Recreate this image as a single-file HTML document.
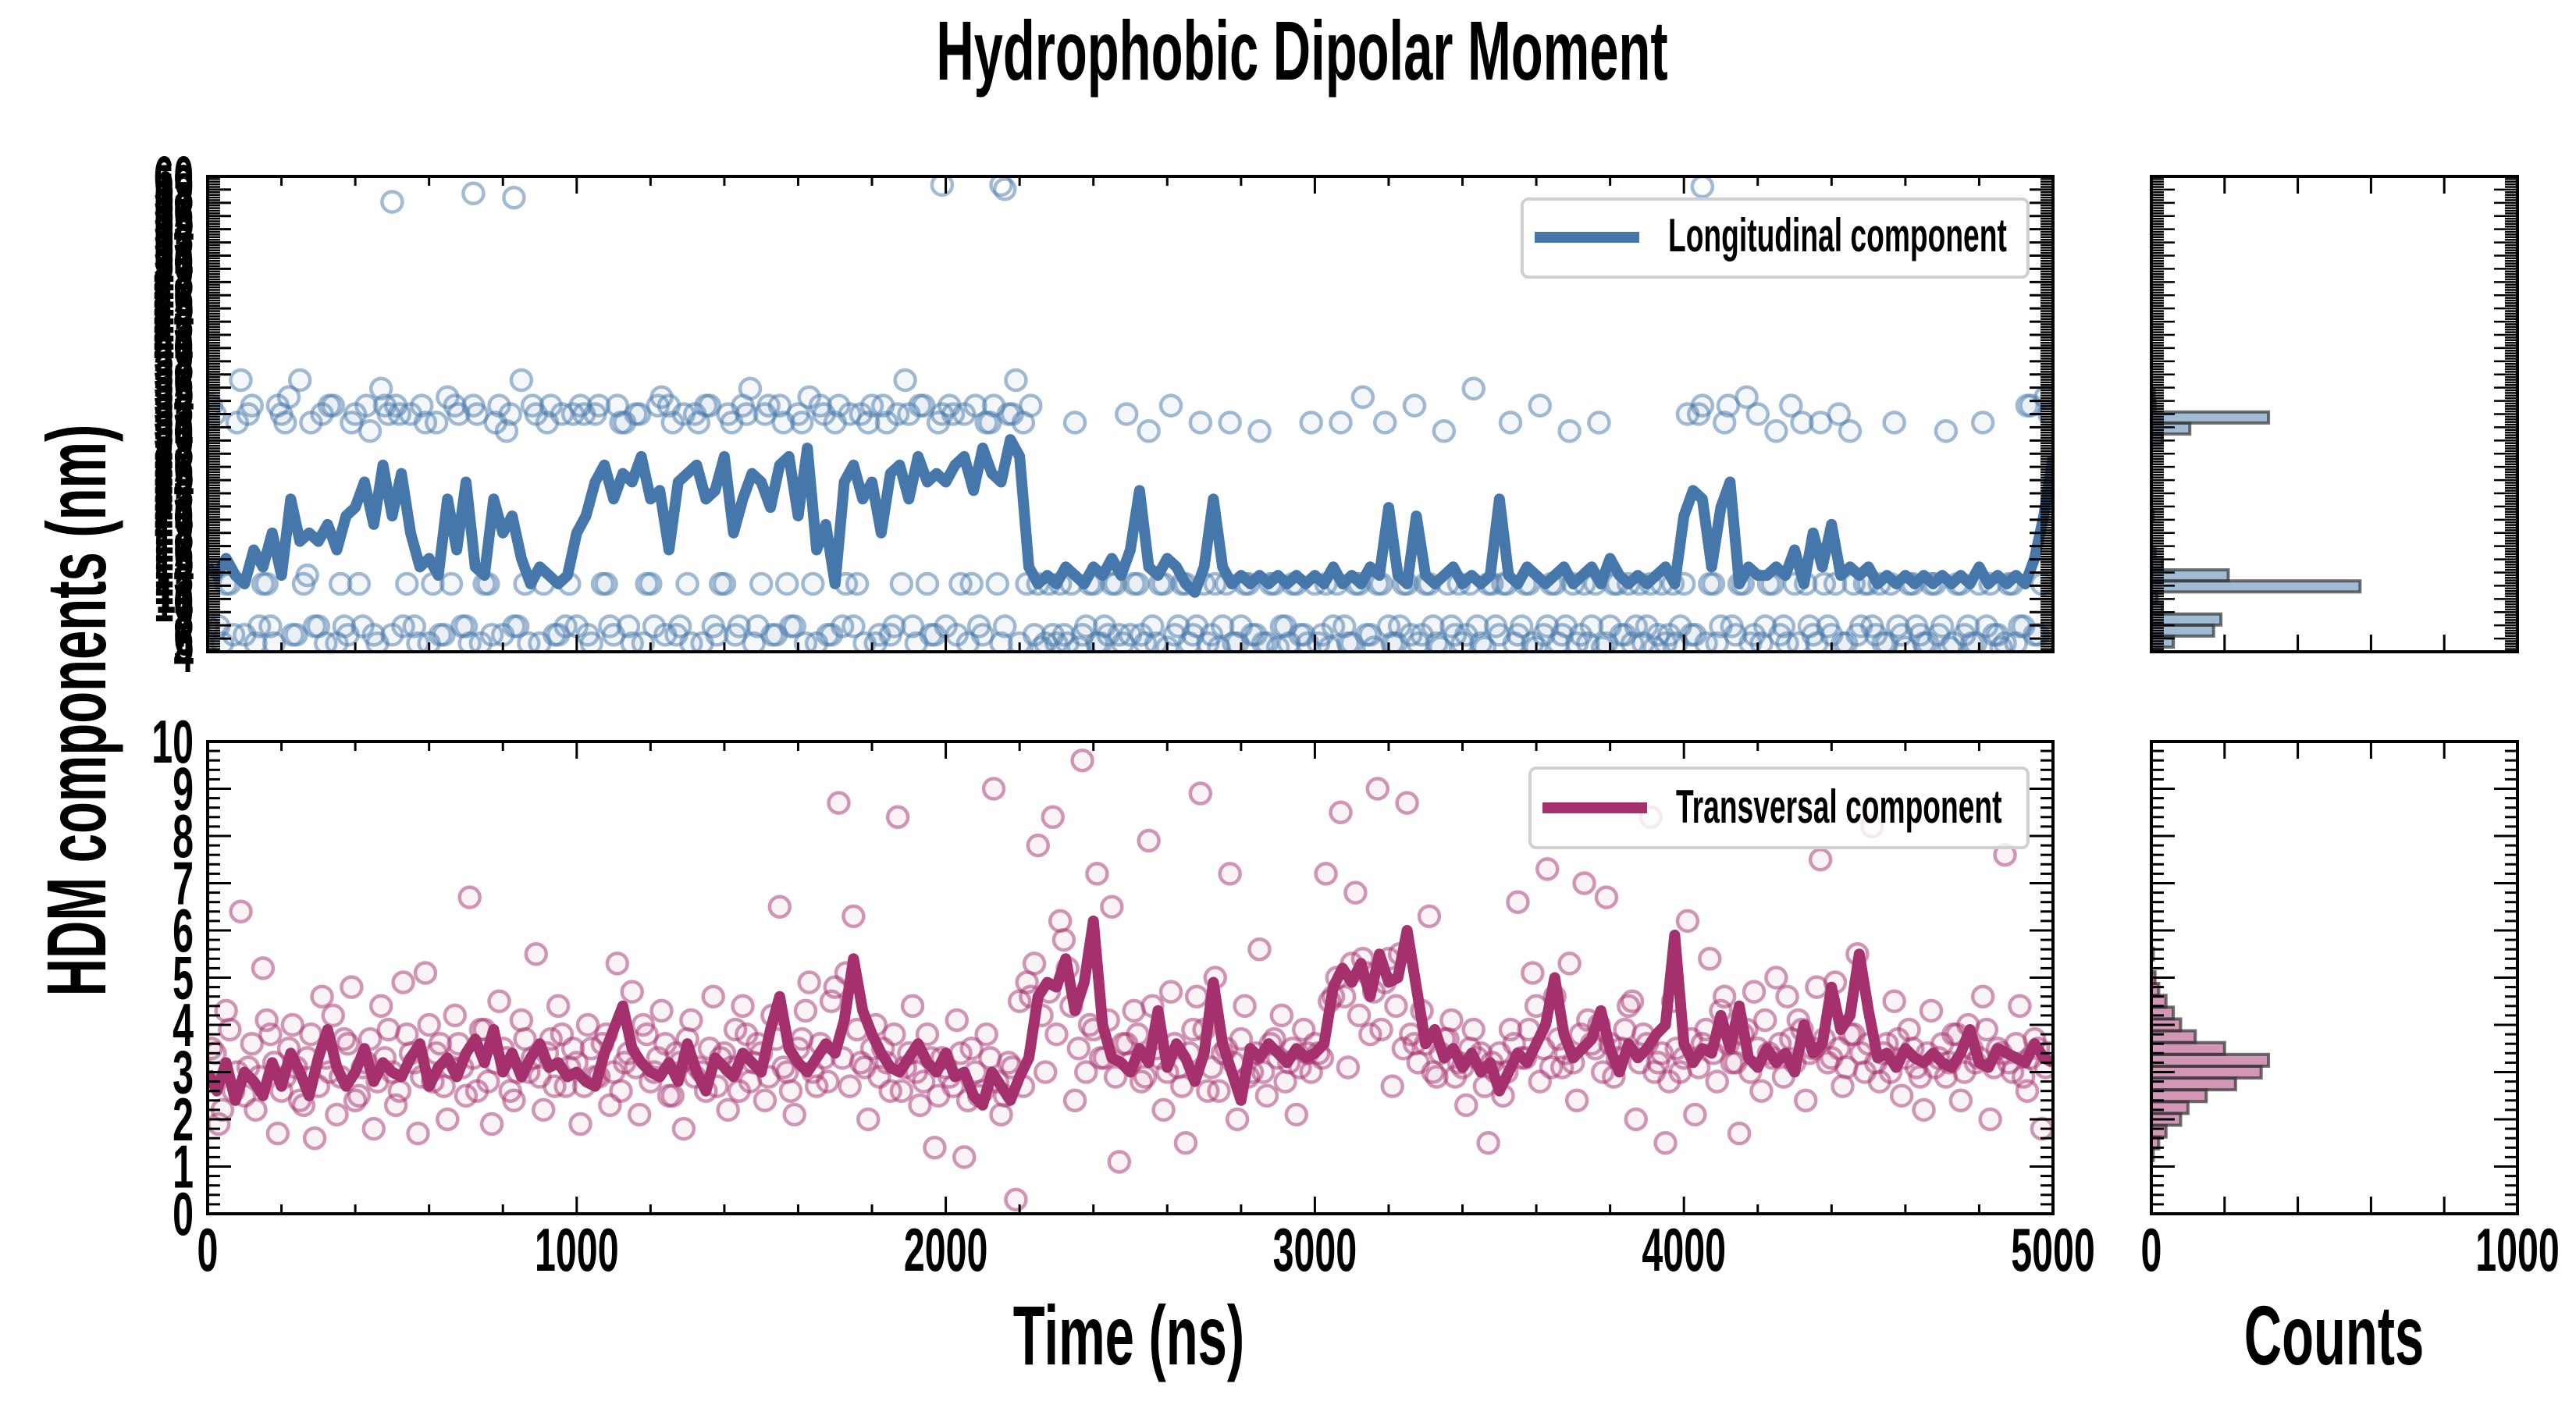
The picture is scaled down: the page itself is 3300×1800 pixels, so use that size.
<!DOCTYPE html>
<html><head><meta charset="utf-8"><style>
html,body{margin:0;padding:0;background:#fff;}
svg{display:block;}
text{font-family:"Liberation Sans",sans-serif;font-weight:bold;fill:#000;}
</style></head><body>
<svg id="chart" xmlns="http://www.w3.org/2000/svg" width="3300" height="1800" viewBox="0 0 3300 1800">
<defs>
<clipPath id="clipTop"><rect x="266" y="226" width="2364" height="609"/></clipPath>
<clipPath id="clipBot"><rect x="266" y="950" width="2364" height="605"/></clipPath>
</defs>
<text transform="translate(1668,102) scale(0.62,1)" font-size="108" text-anchor="middle">Hydrophobic Dipolar Moment</text>
<text transform="translate(135,910) rotate(-90) scale(0.62,1)" font-size="108" text-anchor="middle">HDM components (nm)</text>
<text transform="translate(1446,1748) scale(0.62,1)" font-size="108" text-anchor="middle">Time (ns)</text>
<text transform="translate(2990,1748) scale(0.62,1)" font-size="108" text-anchor="middle">Counts</text>
<g id="gTop"></g>
<g id="gBot"></g>
<g id="gHT"></g>
<g id="gHB"></g>
<g>
<rect x="1950" y="255" width="648" height="100" rx="8" fill="#fff" fill-opacity="0.8" stroke="#d0d0d0" stroke-width="4"/>
<line x1="1966" y1="304" x2="2100" y2="304" stroke="#4677aa" stroke-width="14"/>
<text transform="translate(2137,322) scale(0.62,1)" font-size="60">Longitudinal component</text>
</g>
<g>
<rect x="1960" y="984" width="638" height="102" rx="8" fill="#fff" fill-opacity="0.8" stroke="#d0d0d0" stroke-width="4"/>
<line x1="1976" y1="1035" x2="2110" y2="1035" stroke="#a5306e" stroke-width="14"/>
<text transform="translate(2147,1054) scale(0.62,1)" font-size="60">Transversal component</text>
</g>
</svg>
<script>
// ---------- data ----------
const topLine = [14,13,15,13,12,16,14,18,13,22, 17,18,17,19,16,20,21,24,19,26, 20,25,18,14,15,13,22,16,24,14, 13,22,18,20,15,12,14,13,12,13,
18,20,24,26,22,25,24,27,22,23, 16,24,25,26,22,23,27,18,22,25, 24,21,26,27,20,28,16,19,12,24, 26,22,24,18,25,26,22,27,24,25,
24,26,27,23,28,25,24,29,27,14, 12,13,12,14,13,12,14,13,15,13, 16,23,14,13,15,14,12,11,14,22, 14,12,13,12,13,12,13,12,13,12,
13,12,14,12,13,12,14,13,21,13, 12,20,13,12,13,14,12,13,12,13, 22,13,12,14,13,12,13,14,12,13, 14,12,15,13,12,13,12,13,14,12,
20,23,22,14,21,24,12,14,13,13, 14,13,16,12,18,14,19,13,14,13, 14,12,13,12,13,12,13,12,13,12, 13,12,14,12,13,12,13,12,15,20,27];
const topScatter = [33,7,12,6,36,32,5,12,7,33,31,6,36,13,7,32,33,5,7,31,12,33,6,35,32,
33,7,32,5,31,12,6,34,33,7,5,32,12,6,33,30,7,36,5,32,12,33,6,7,32,
33,6,32,12,7,33,31,5,32,12,7,34,33,6,32,5,31,33,7,12,32,6,33,35,7,
32,6,33,12,7,31,34,5,32,6,33,12,7,32,31,5,33,6,32,36,7,33,12,6,32,
33,6,32,12,7,31,33,5,32,36,31,33,12,5,6,12,5,31,6,12,5,7,12,6,32,
12,6,30,5,12,33,7,12,6,31,5,12,7,31,5,12,6,30,5,12,7,5,12,6,31,
5,12,7,31,5,12,34,6,12,31,5,7,12,33,6,12,5,30,7,12,6,35,5,12,7,
12,31,6,12,5,33,7,12,6,30,5,12,7,31,5,12,6,12,7,5,12,6,5,12,7,
32,6,33,12,5,31,7,12,34,6,5,12,30,7,33,5,12,6,31,7,12,5,30,6,12,
7,12,5,31,6,12,7,5,12,6,30,5,12,7,5,31,12,6,5,12,7,33,6,12,32];
const topScatter2 = [7,32,5,12,31,6,33,7,12,5,32,34,6,12,31,7,5,33,12,6,32,7,30,5,33,
6,32,12,7,33,5,31,6,12,32,7,33,5,12,31,6,32,7,12,33,5,31,6,32,12,
7,32,5,33,12,6,31,7,32,5,12,33,6,31,7,12,32,5,33,6,12,31,7,32,5,
12,33,6,31,7,32,5,12,33,6,31,7,32,12,5,33,6,31,7,12,32,5,33,6,31,
7,32,12,5,33,6,31,12,7,32,5,12,6,4.5,12,5,6,12,4.5,7,12,5,6,12,5,
6,12,5,7,12,4.5,6,12,5,7,12,6,4.5,12,5,7,12,6,5,12,4.5,7,12,6,5,
12,6,4.5,12,7,5,12,6,4.5,12,7,5,12,6,5,12,7,4.5,12,6,5,12,7,4.5,12,
6,12,5,7,12,4.5,6,12,5,7,12,6,5,12,4.5,7,12,6,5,12,7,4.5,12,6,5,
12,6,32,5,12,7,33,6,12,5,32,7,12,6,5,12,31,7,5,12,6,32,5,12,7,
12,6,5,12,7,4.5,12,6,5,12,7,4.5,12,6,5,12,7,6,4.5,12,5,7,33,6,34];
const topOutlierT = [500,720,830,1990,2150,2160,4050];
const topOutlierV = [57,58,57.5,59,59,58.5,58.8];
const botLine = [3.0,2.6,3.2,2.4,3.0,2.8,2.5,3.2,2.7,3.4, 3.0,2.5,3.3,3.9,3.1,2.7,3.0,3.5,2.8,3.2, 3.0,2.9,3.3,3.6,2.7,3.1,3.3,2.9,3.4,3.7, 3.2,3.9,3.0,3.4,2.9,3.3,3.6,3.1,3.2,2.9,
3.0,2.8,2.7,3.4,3.9,4.4,3.5,3.2,3.0,2.9, 3.2,2.8,3.6,3.0,2.6,3.3,3.1,2.9,3.4,3.2, 3.0,3.9,4.6,3.5,3.2,3.0,3.3,3.6,3.4,4.1, 5.4,4.3,3.8,3.4,3.1,3.0,3.3,3.6,3.2,3.0,
3.4,2.9,3.0,2.5,2.3,3.0,2.7,2.4,2.9,3.3, 4.6,4.9,4.8,5.4,4.3,4.9,6.2,4.0,3.3,3.2, 3.0,3.5,3.2,4.3,3.1,3.6,3.3,2.8,3.4,4.9, 3.6,3.0,2.4,3.5,3.3,3.6,3.4,3.2,3.5,3.3,
3.4,3.6,4.8,5.2,4.9,5.3,4.6,5.5,4.9,5.0, 6.0,4.8,3.6,3.9,3.3,3.5,3.1,3.4,3.0,3.2, 2.6,3.0,3.4,3.2,3.6,4.0,5.0,3.8,3.3,3.5, 3.7,4.3,3.5,3.0,3.6,3.3,3.5,3.8,4.0,5.9,
3.6,3.2,3.5,3.4,4.2,3.5,4.4,3.3,3.1,3.5, 3.2,3.4,3.0,4.0,3.4,3.6,4.8,3.9,4.2,5.5, 4.3,3.3,3.4,3.1,3.5,3.3,3.2,3.4,3.2,3.1, 3.4,3.9,3.2,3.1,3.5,3.4,3.3,3.2,3.6,3.3,3.2];
const botScatter = [3.5,1.9,4.3,2.6,6.4,3.1,2.2,5.2,3.8,1.7,2.9,4.0,2.4,3.3,1.6,4.6,3.0,2.1,3.7,4.8,2.5,3.2,1.8,4.4,3.9,
2.3,4.9,3.4,1.7,5.1,2.8,3.6,2.0,4.2,3.1,6.7,2.6,3.9,1.9,4.5,3.3,2.4,4.1,3.0,5.5,2.2,3.7,4.4,2.7,3.5,
1.9,4.0,2.9,3.6,2.3,5.3,3.2,4.7,2.1,3.8,3.0,4.3,2.5,3.4,1.8,4.1,3.1,2.6,4.6,3.3,2.2,3.9,4.4,2.8,3.6,
2.4,4.2,6.5,3.0,2.1,3.7,4.9,2.7,3.3,4.5,8.7,5.1,6.3,3.2,2.0,4.0,3.5,2.6,8.4,3.1,4.4,2.3,3.8,1.4,3.3,
2.9,4.1,1.2,3.5,2.5,3.8,9.0,2.1,3.2,0.3,2.7,4.6,7.8,3.0,8.4,6.2,5.2,2.4,9.6,4.0,7.2,3.3,6.5,1.1,3.6,
4.3,2.8,7.9,3.5,2.2,4.7,3.1,1.5,3.9,8.9,2.6,5.0,3.4,7.2,2.0,4.4,3.0,5.6,2.5,3.7,4.2,3.2,2.1,3.9,3.0,
3.4,7.2,4.6,8.5,3.1,6.8,5.4,3.8,9.0,4.9,2.7,5.5,8.7,3.6,4.3,6.3,2.9,3.7,4.1,3.2,2.3,3.9,3.4,1.5,3.0,
2.5,3.9,6.6,3.3,5.1,2.8,7.3,4.6,3.1,5.3,2.4,7.0,3.6,4.0,6.7,2.9,3.5,4.4,2.0,3.8,8.4,3.2,1.5,4.5,3.0,
6.2,2.1,3.6,5.4,2.8,4.6,3.2,1.7,3.9,4.7,2.6,3.4,5.0,2.9,3.7,4.1,2.4,3.5,7.5,3.2,4.9,2.7,3.8,5.5,3.0,
8.2,2.8,3.6,4.5,2.5,3.9,3.1,2.2,4.3,3.3,2.9,3.8,2.4,4.0,3.2,4.6,2.0,3.5,7.6,3.0,4.4,2.6,3.7,1.8,3.4];
const botScatter2 = [2.8,3.4,2.2,3.9,3.0,2.5,3.6,2.9,4.1,3.2,2.6,3.5,3.1,2.3,3.8,2.7,3.3,4.2,2.9,3.6,2.4,3.1,3.7,2.8,3.3,
3.0,2.6,3.8,3.2,2.9,4.0,3.4,2.7,3.1,3.6,2.5,3.3,3.9,2.8,3.2,3.5,2.6,3.0,3.7,3.3,2.9,3.4,2.7,3.8,3.1,
3.2,2.7,3.5,2.9,3.8,3.0,2.6,3.4,3.1,4.0,2.8,3.3,3.6,2.5,3.2,3.7,2.9,3.0,3.5,2.7,3.4,3.1,2.6,3.8,3.2,
3.4,2.9,3.7,3.1,2.6,3.5,4.3,3.0,3.6,2.8,4.8,3.3,2.7,3.9,3.1,3.5,2.9,3.2,3.8,2.6,3.4,3.0,2.8,3.3,2.5,
3.1,2.7,3.4,2.4,3.0,2.6,3.3,2.8,2.5,3.1,4.5,4.9,5.3,4.2,4.7,3.8,5.8,4.4,3.5,3.0,3.9,3.3,4.1,2.9,3.6,
3.2,3.8,2.9,4.4,3.3,3.0,3.6,2.7,3.4,4.6,3.9,3.1,2.6,3.5,3.2,3.7,2.9,3.4,3.0,3.6,3.3,2.8,3.5,3.1,3.4,
3.6,3.3,4.5,5.0,4.6,5.3,4.2,5.1,4.7,3.9,5.4,4.4,3.5,3.8,3.2,3.6,3.0,3.4,3.7,2.9,3.1,3.5,3.3,2.7,3.2,
3.4,3.0,3.6,3.3,3.9,4.4,3.5,3.1,3.7,3.4,3.2,3.8,4.1,3.5,3.0,3.6,3.3,3.9,4.5,3.2,3.6,3.0,3.4,2.8,3.5,
3.3,3.7,3.1,3.9,3.4,4.3,3.6,3.2,3.8,3.0,3.5,4.1,3.3,3.6,4.6,3.2,3.9,3.4,4.8,3.7,3.3,3.5,3.1,3.8,3.4,
3.6,3.2,3.4,3.0,3.7,3.3,3.5,2.9,3.4,3.1,3.6,3.2,3.8,3.0,3.5,3.3,3.9,3.1,3.4,3.2,3.6,2.9,3.3,3.5,3.1];
const topHistCenters = [5.2,6.5,7.8,9.1,10.4,11.7,13.0,14.3,15.6,20.0,29.0,30.3,31.6,32.9,34.2];
const topHistCounts  = [60,170,190,30,15,570,210,30,10,5,30,105,320,10,8];
const botHistCenters = [1.25,1.5,1.75,2.0,2.25,2.5,2.75,3.0,3.25,3.5,3.75,4.0,4.25,4.5,4.75,5.0,5.5];
const botHistCounts  = [5,20,40,80,100,150,230,300,320,200,120,80,60,40,20,10,5];
const xTickLabels = ["0","1000","2000","3000","4000","5000"];
const botYTickLabels = ["0","1","2","3","4","5","6","7","8","9","10"];
const topYTickLabels = ["4","5","6","7","8","9","10","11","12","13","14","15","16","17","18","19","20","21","22","23","24","25","26","27","28","29","30","31","32","33","34","35","36","37","38","39","40","41","42","43","44","45","46","47","48","49","50","51","52","53","54","55","56","57","58","59","60"];
const histXTickLabels = ["0","1000"];

// ---------- axes ----------
const X0=266,X1=2630, TY0=835,TY1=226, BY0=1555,BY1=950, HX0=2756,HX1=3225;
const TDOM=[4,60], BDOM=[0,10];
const xs=t=>X0+t/5000*(X1-X0);
const yT=v=>TY0-(v-TDOM[0])/(TDOM[1]-TDOM[0])*(TY0-TY1);
const yB=v=>BY0-(v-BDOM[0])/(BDOM[1]-BDOM[0])*(BY0-BY1);
const hx=c=>HX0+c/1000*(HX1-HX0);
const NS="http://www.w3.org/2000/svg";
function mk(tag,attrs,parent){const e=document.createElementNS(NS,tag);for(const k in attrs)e.setAttribute(k,attrs[k]);parent.appendChild(e);return e;}
function ctext(parent,x,y,size,anchor,str){const t=mk('text',{transform:'translate('+x+','+y+') scale(0.62,1)','font-size':size,'text-anchor':anchor},parent);t.textContent=str;return t;}

function scatter(g,vals,step,off,yf,color,clip,name){
  const sg=mk('g',{'clip-path':'url(#'+clip+')'},g);
  vals.forEach((v,i)=>{
    const c=mk('circle',{cx:xs(off+i*step),cy:yf(v),r:13,fill:color,'fill-opacity':0.06,stroke:color,'stroke-opacity':0.5,'stroke-width':4.5},sg);
    
    
  });
}
function line(g,vals,yf,color,clip,name){
  const d=vals.map((v,i)=>(i?'L':'M')+xs(i*25).toFixed(1)+','+yf(v).toFixed(1)).join('');
  const p=mk('path',{d:d,fill:'none',stroke:color,'stroke-width':14,'stroke-linejoin':'round','clip-path':'url(#'+clip+')'},g);
  
  
}
function frame(g,x0,y0,x1,y1){mk('rect',{x:x0,y:y1,width:x1-x0,height:y0-y1,fill:'none',stroke:'#000','stroke-width':4},g);}
function xticks(g,y0,y1){
  for(let t=0;t<=5000;t+=200){const maj=t%1000===0;const L=maj?22:12;const x=xs(t);
    mk('line',{x1:x,y1:y0,x2:x,y2:y0-L,stroke:'#000','stroke-width':3},g);
    mk('line',{x1:x,y1:y1,x2:x,y2:y1+L,stroke:'#000','stroke-width':3},g);}
}

// top panel
const gTop=document.getElementById('gTop');
scatter(gTop,topScatter,20,10,yT,'#4677aa','clipTop','longitudinal-point');
scatter(gTop,topScatter2,20,0,yT,'#4677aa','clipTop','longitudinal-point');
topOutlierT.forEach((t,i)=>{const c=mk('circle',{cx:xs(t),cy:yT(topOutlierV[i]),r:13,fill:'none',stroke:'#4677aa','stroke-opacity':0.5,'stroke-width':4.5,'clip-path':'url(#clipTop)'},gTop);
  
  });
line(gTop,topLine,yT,'#4677aa','clipTop','longitudinal-line');
frame(gTop,X0,TY0,X1,TY1);
xticks(gTop,TY0,TY1);
const nMaj=36;
for(let i=0;i<=nMaj*5;i++){const y=TY0-i*(TY0-TY1)/(nMaj*5);const maj=i%5===0;const L=maj?30:16;
  mk('line',{x1:X0,y1:y,x2:X0+L,y2:y,stroke:'#000','stroke-width':maj?3:2.5},gTop);
  mk('line',{x1:X1,y1:y,x2:X1-L,y2:y,stroke:'#000','stroke-width':maj?3:2.5},gTop);}
topYTickLabels.forEach((s,i)=>{const t=ctext(gTop,248,yT(TDOM[0]+i*(TDOM[1]-TDOM[0])/(topYTickLabels.length-1))+26,74,'end',s);
  
  });

// bottom panel
const gBot=document.getElementById('gBot');
scatter(gBot,botScatter,20,10,yB,'#a5306e','clipBot','transversal-point');
scatter(gBot,botScatter2,20,0,yB,'#a5306e','clipBot','transversal-point');
line(gBot,botLine,yB,'#a5306e','clipBot','transversal-line');
frame(gBot,X0,BY0,X1,BY1);
xticks(gBot,BY0,BY1);
for(let v=0;v<=10.001;v+=0.2){const y=yB(v);const maj=Math.abs(v-Math.round(v))<0.01;const L=maj?30:16;
  mk('line',{x1:X0,y1:y,x2:X0+L,y2:y,stroke:'#000','stroke-width':3},gBot);
  mk('line',{x1:X1,y1:y,x2:X1-L,y2:y,stroke:'#000','stroke-width':3},gBot);}
botYTickLabels.forEach((s,i)=>{const t=ctext(gBot,248,yB(i)+27,78,'end',s);
  
  });
xTickLabels.forEach((s,i)=>{const t=ctext(gBot,xs(i*1000),1628,78,'middle',s);
  
  });

// histograms
function hist(g,centers,counts,w,yf,color,y0,y1,name,dense){
  centers.forEach((c,i)=>{const yt=yf(c+w/2),yb=yf(c-w/2);
    const r=mk('rect',{x:HX0,y:yt,width:hx(counts[i])-HX0,height:yb-yt,fill:color,'fill-opacity':0.5,stroke:'#333','stroke-opacity':0.7,'stroke-width':4},g);
    
    });
  mk('rect',{x:HX0,y:y1,width:HX1-HX0,height:y0-y1,fill:'none',stroke:'#000','stroke-width':4},g);
  for(let c=0;c<=1000;c+=200){const x=hx(c);
    mk('line',{x1:x,y1:y0,x2:x,y2:y0-22,stroke:'#000','stroke-width':3},g);
    mk('line',{x1:x,y1:y1,x2:x,y2:y1+22,stroke:'#000','stroke-width':3},g);}
  const n=dense?180:50;
  for(let i=0;i<=n;i++){const y=y0-i*(y0-y1)/n;const maj=i%5===0;const L=maj?30:16;
    mk('line',{x1:HX0,y1:y,x2:HX0+L,y2:y,stroke:'#000','stroke-width':dense?2.5:3},g);
    mk('line',{x1:HX1,y1:y,x2:HX1-L,y2:y,stroke:'#000','stroke-width':dense?2.5:3},g);}
}
hist(document.getElementById('gHT'),topHistCenters,topHistCounts,1.3,yT,'#4677aa',TY0,TY1,'longitudinal-hist-bar',true);
const gHB=document.getElementById('gHB');
hist(gHB,botHistCenters,botHistCounts,0.25,yB,'#a5306e',BY0,BY1,'transversal-hist-bar',false);
histXTickLabels.forEach((s,i)=>{const t=ctext(gHB,hx(i*1000),1628,78,'middle',s);
  
  });
</script>
</body></html>
